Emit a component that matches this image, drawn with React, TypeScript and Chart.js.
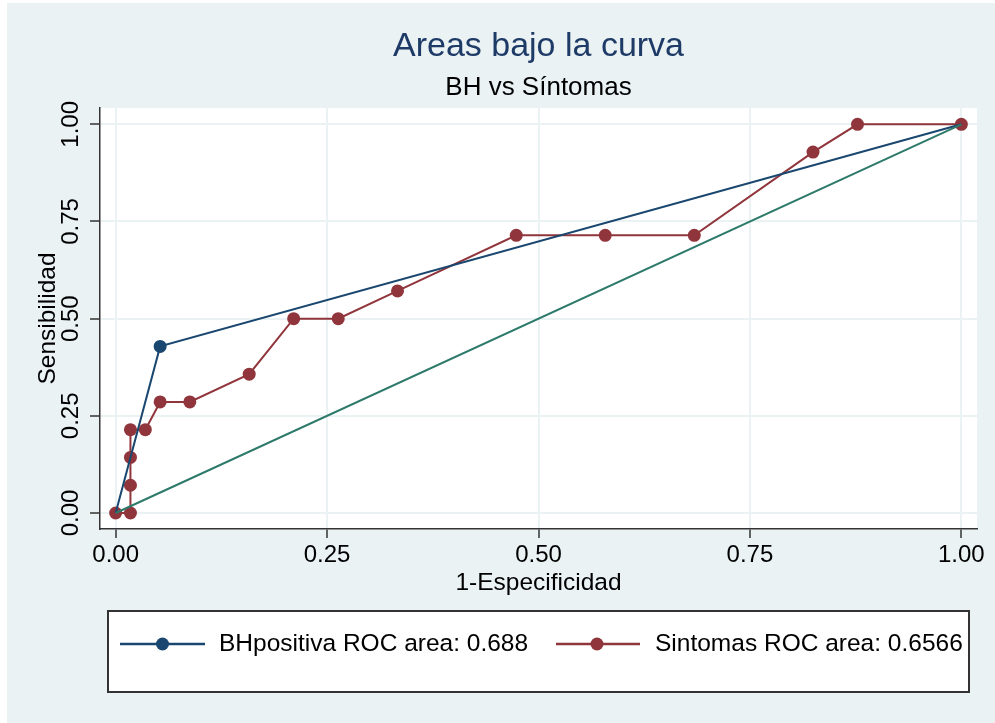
import React, { useEffect, useRef } from "react";
import { Chart, registerables } from "chart.js";

Chart.register(...registerables);

const titleText = "Areas bajo la curva";
const subtitleText = "BH vs Síntomas";
const xTitle = "1-Especificidad";
const yTitle = "Sensibilidad";

const tickValues = [0, 0.25, 0.5, 0.75, 1];
const tickLabels = ["0.00", "0.25", "0.50", "0.75", "1.00"];

const bhLabel = "BHpositiva ROC area: 0.688";
const bhX = [0, 0.0526, 1];
const bhY = [0, 0.4286, 1];

const sintLabel = "Sintomas ROC area: 0.6566";
const sintX = [0, 0.0175, 0.0175, 0.0175, 0.0175, 0.0351, 0.0526, 0.0877, 0.1579, 0.2105, 0.2632, 0.3333, 0.4737, 0.5789, 0.6842, 0.8246, 0.8772, 1];
const sintY = [0, 0, 0.0714, 0.1429, 0.2143, 0.2143, 0.2857, 0.2857, 0.3571, 0.5, 0.5, 0.5714, 0.7143, 0.7143, 0.7143, 0.9286, 1, 1];

const refX = [0, 1];
const refY = [0, 1];

const BLUE = "#1A476F";
const RED = "#90353B";
const GREEN = "#2D7A6A";
const BG = "#EAF2F3";
const FONT = "'Liberation Sans', Arial, Helvetica, sans-serif";

const toPts = (xs: number[], ys: number[]) => xs.map((x, i) => ({ x, y: ys[i] }));

const bgPlugin = {
  id: "bgPlugin",
  beforeDraw(chart: any) {
    const { ctx, chartArea } = chart;
    ctx.save();
    ctx.fillStyle = "#ffffff";
    ctx.fillRect(0, 0, chart.width, chart.height);
    ctx.fillStyle = BG;
    ctx.fillRect(7, 3, chart.width - 7, chart.height - 3);
    ctx.fillStyle = "#ffffff";
    ctx.fillRect(chartArea.left, chartArea.top, chartArea.right - chartArea.left, chartArea.bottom - chartArea.top);
    ctx.restore();
  },
};

const legendBoxPlugin = {
  id: "legendBoxPlugin",
  afterDraw(chart: any) {
    const { ctx } = chart;
    const left = 108, top = 611, right = 969, bottom = 692;
    ctx.save();
    ctx.fillStyle = "#ffffff";
    ctx.fillRect(left, top, right - left, bottom - top);
    ctx.strokeStyle = "#333333";
    ctx.lineWidth = 2;
    ctx.strokeRect(left, top, right - left, bottom - top);
    const cy = 644;
    const items = [
      { label: chart.data.datasets[1].label, color: BLUE, x0: 120, x1: 205, mx: 162.5, tx: 219 },
      { label: chart.data.datasets[2].label, color: RED, x0: 556, x1: 640, mx: 597, tx: 655 },
    ];
    items.forEach((it) => {
      ctx.strokeStyle = it.color;
      ctx.lineWidth = 2.5;
      ctx.beginPath();
      ctx.moveTo(it.x0, cy);
      ctx.lineTo(it.x1, cy);
      ctx.stroke();
      ctx.fillStyle = it.color;
      ctx.beginPath();
      ctx.arc(it.mx, cy, 6.5, 0, Math.PI * 2);
      ctx.fill();
      ctx.fillStyle = "#000000";
      ctx.font = `24.5px ${FONT}`;
      ctx.textAlign = "left";
      ctx.textBaseline = "middle";
      ctx.fillText(it.label, it.tx, cy);
    });
    ctx.restore();
  },
};

export default function App() {
  const ref = useRef<HTMLCanvasElement | null>(null);
  useEffect(() => {
    if (!ref.current) return;
    const chart = new Chart(ref.current, {
      type: "scatter",
      data: {
        datasets: [
          {
            label: "Referencia",
            data: toPts(refX, refY),
            showLine: true,
            borderColor: GREEN,
            backgroundColor: GREEN,
            borderWidth: 2,
            pointRadius: 0,
            order: 0,
          },
          {
            label: bhLabel,
            data: toPts(bhX, bhY),
            showLine: true,
            borderColor: BLUE,
            backgroundColor: BLUE,
            borderWidth: 2,
            pointRadius: bhX.map((x) => (x === 0 || x === 1 ? 0 : 6.5)),
            pointBorderWidth: 0,
            order: 1,
          },
          {
            label: sintLabel,
            data: toPts(sintX, sintY),
            showLine: true,
            borderColor: RED,
            backgroundColor: RED,
            borderWidth: 2,
            pointRadius: 6.5,
            pointBorderWidth: 0,
            order: 2,
          },
        ],
      },
      options: {
        animation: false,
        responsive: false,
        maintainAspectRatio: false,
        layout: { padding: { left: 0, right: 18, top: 0, bottom: 124 } },
        plugins: {
          legend: { display: false },
          tooltip: { enabled: false },
          title: {
            display: true,
            fullSize: false,
            text: titleText,
            color: "#1E3A66",
            font: { family: FONT, size: 34, weight: "normal", lineHeight: 1.2 },
            padding: { top: 26.3, bottom: 0 },
          },
          subtitle: {
            display: true,
            fullSize: false,
            text: subtitleText,
            color: "#000000",
            font: { family: FONT, size: 26, weight: "normal", lineHeight: 1.2 },
            padding: { top: 5.3, bottom: 4.4 },
          },
        },
        scales: {
          x: {
            type: "linear",
            min: -0.0185,
            max: 1.0185,
            afterBuildTicks: (scale: any) => {
              scale.ticks = tickValues.map((v) => ({ value: v }));
            },
            afterFit: (scale: any) => {
              scale.height = 70;
            },
            ticks: {
              callback: (v: any) => tickLabels[tickValues.indexOf(Number(v))] ?? "",
              color: "#000000",
              font: { family: FONT, size: 24 },
              padding: 3,
              maxRotation: 0,
              minRotation: 0,
            },
            grid: {
              color: BG,
              lineWidth: 2,
              drawTicks: true,
              tickLength: 9,
              tickColor: "#333333",
              tickWidth: 1.5,
            },
            border: { display: true, color: "#333333", width: 1.5 },
            title: {
              display: true,
              text: xTitle,
              color: "#000000",
              font: { family: FONT, size: 24.5 },
              padding: { top: 0, bottom: 1.3 },
            },
          },
          y: {
            type: "linear",
            min: -0.0412,
            max: 1.042,
            afterBuildTicks: (scale: any) => {
              scale.ticks = tickValues.map((v) => ({ value: v }));
            },
            afterFit: (scale: any) => {
              scale.width = 100;
            },
            ticks: {
              callback: (v: any) => tickLabels[tickValues.indexOf(Number(v))] ?? "",
              color: "#000000",
              font: { family: FONT, size: 24 },
              padding: -5,
              minRotation: 90,
              maxRotation: 90,
              crossAlign: "center",
            },
            grid: {
              color: BG,
              lineWidth: 2,
              drawTicks: true,
              tickLength: 10,
              tickColor: "#333333",
              tickWidth: 1.5,
            },
            border: { display: true, color: "#333333", width: 1.5 },
            title: {
              display: true,
              text: yTitle,
              color: "#000000",
              font: { family: FONT, size: 24.5 },
              padding: { top: 33.3, bottom: 0 },
            },
          },
        },
      },
      plugins: [bgPlugin, legendBoxPlugin],
    } as any);
    return () => chart.destroy();
  }, []);
  return (
    <div style={{ position: "fixed", left: 0, top: 0, width: 995, height: 723 }}>
      <canvas ref={ref} width={995} height={723} style={{ width: 995, height: 723, display: "block" }} />
    </div>
  );
}
